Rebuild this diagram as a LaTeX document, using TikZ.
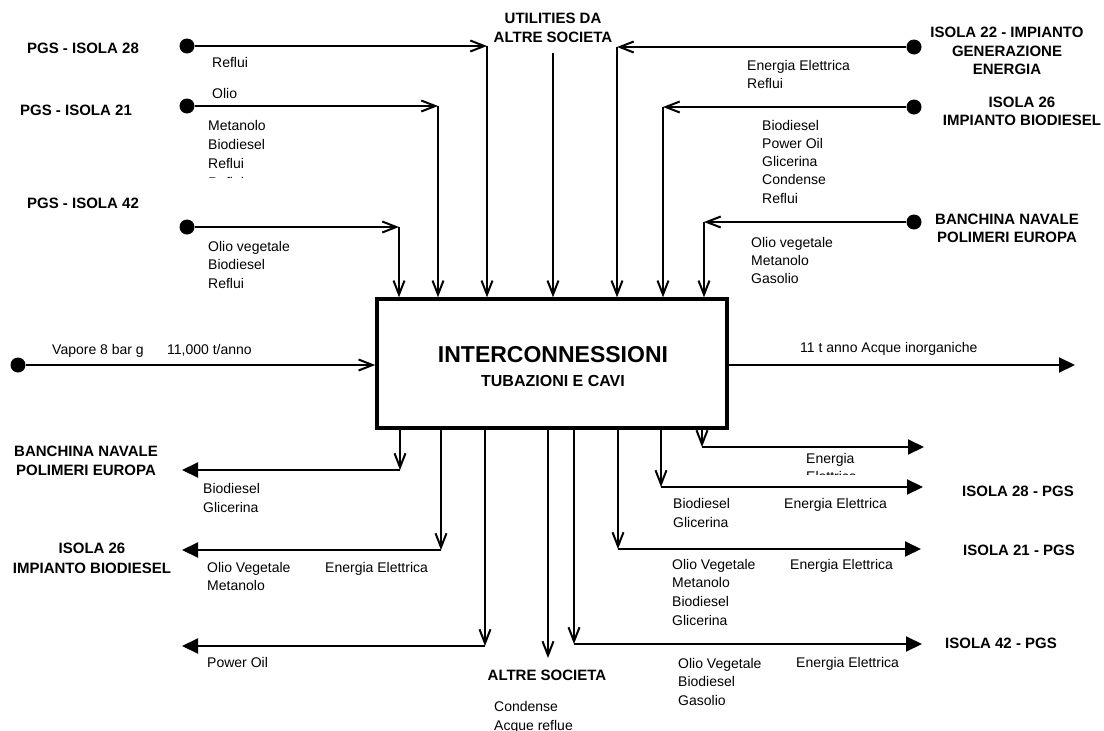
\documentclass[tikz,border=0pt]{standalone}
\usepackage{fontspec}
\setmainfont{Liberation Sans}
\usetikzlibrary{arrows.meta}

% one small label per line, baselines spaced evenly
\newcommand\labelrows[5]{%
  \foreach \t [count=\i] in {#5}
    \node[lbl] (#1-\i) at (#2, {#3+(\i-1)*#4}) {\t};}

\begin{document}
\begin{tikzpicture}[x=1pt,y=-1pt,
  flow/.style={line width=2pt, -{Straight Barb[length=14pt,width=11pt]}},
  outflow/.style={line width=2pt, -{Triangle[length=16pt,width=15pt]}},
  src/.style={circle, fill=black, minimum size=15pt, inner sep=0pt},
  hub/.style={draw, line width=3.4pt, minimum width=350pt, minimum height=129pt, inner sep=0pt},
  lbl/.style={font=\fontsize{14}{18}\selectfont, inner sep=0pt, anchor=base west},
  site/.style={font=\fontsize{15}{19}\selectfont\bfseries, align=center, inner sep=0pt},
]
\useasboundingbox (0,0) rectangle (1104,731);

% central block
\node[hub] (hub) at (552,363.5) {};
\node[font=\fontsize{23}{27}\selectfont\bfseries, inner sep=0pt] (title) at (553,355) {INTERCONNESSIONI};
\node[font=\fontsize{16}{19}\selectfont\bfseries, inner sep=0pt] (subtitle) at (553,381) {TUBAZIONI E CAVI};

% ---------- incoming, top left ----------
\node[site] (pgs28) at (83,48) {PGS - ISOLA 28};
\node[site] (pgs21) at (76,110) {PGS - ISOLA 21};
\node[site] (pgs42) at (83,203) {PGS - ISOLA 42};

\node[src] (d28) at (187,46) {};
\node[src] (d21) at (187,106) {};
\node[src] (d42) at (187,227) {};
\coordinate (c28) at (487,46);
\coordinate (c21) at (438,106);
\coordinate (c42) at (399,227);
\draw[flow] (d28) -- (c28);
\draw[flow] (c28) -- (c28 |- hub.north);
\draw[flow] (d21) -- (c21);
\draw[flow] (c21) -- (c21 |- hub.north);
\draw[flow] (d42) -- (c42);
\draw[flow] (c42) -- (c42 |- hub.north);

\labelrows{l28}{212}{67}{19}{Reflui}
\node[lbl] (l21a) at (212,98) {Olio};
\labelrows{l21}{208}{130}{19}{Metanolo,Biodiesel,Reflui}
\begin{scope}
  \clip (200,150) rectangle (300,177.5);
  \node[lbl] (l21x) at (208,187) {Reflui};
\end{scope}
\labelrows{l42}{208}{251}{18.5}{Olio vegetale,Biodiesel,Reflui}

% ---------- incoming, top centre ----------
\node[site] (util) at (553,28) {UTILITIES DA\\ALTRE SOCIETA};
\coordinate (cu) at (553,53);
\draw[flow] (cu) -- (cu |- hub.north);

% ---------- incoming, top right ----------
\node[site, font=\fontsize{15}{18.5}\selectfont\bfseries] (is22) at (1007,51) {ISOLA 22 - IMPIANTO\\GENERAZIONE\\ENERGIA};
\node[site, font=\fontsize{15}{18}\selectfont\bfseries] (is26a) at (1022,111) {ISOLA 26\\IMPIANTO BIODIESEL};
\node[site, font=\fontsize{15}{17.5}\selectfont\bfseries] (bna) at (1007,228.5) {BANCHINA NAVALE\\POLIMERI EUROPA};

\node[src] (d22) at (914,47) {};
\node[src] (d26) at (914,107) {};
\node[src] (dbn) at (914,222) {};
\coordinate (c22) at (617,47);
\coordinate (c26) at (663,107);
\coordinate (cbn) at (704,222);
\draw[flow] (d22) -- (c22);
\draw[flow] (c22) -- (c22 |- hub.north);
\draw[flow] (d26) -- (c26);
\draw[flow] (c26) -- (c26 |- hub.north);
\draw[flow] (dbn) -- (cbn);
\draw[flow] (cbn) -- (cbn |- hub.north);

\labelrows{l22}{747}{70}{18}{Energia Elettrica,Reflui}
\labelrows{l26}{762}{130}{18.3}{Biodiesel,Power Oil,Glicerina,Condense,Reflui}
\labelrows{lbn}{751}{247}{18}{Olio vegetale,Metanolo,Gasolio}

% ---------- steam in, water out ----------
\node[src] (dv) at (18,365) {};
\draw[flow] (dv) -- (dv -| hub.west);
\node[lbl] (vap) at (52,354) {Vapore 8 bar g};
\node[lbl] (vapq) at (167,354) {11,000 t/anno};

\coordinate (ac) at (1075,365);
\draw[outflow] (ac -| hub.east) -- (ac);
\node[lbl] (acq) at (800,352) {11 t anno Acque inorganiche};

% ---------- outgoing, bottom left ----------
\node[site] (bnb) at (86,461) {BANCHINA NAVALE\\POLIMERI EUROPA};
\node[site, font=\fontsize{15}{20}\selectfont\bfseries] (is26b) at (92,558) {ISOLA 26\\IMPIANTO BIODIESEL};

\coordinate (b1) at (400,470);
\coordinate (e1) at (182,470);
\coordinate (b2) at (441,550);
\coordinate (e2) at (182,550);
\coordinate (b3) at (485,646);
\coordinate (e3) at (182,646);
\draw[flow] (b1 |- hub.south) -- (b1);
\draw[outflow] (b1) -- (e1);
\draw[flow] (b2 |- hub.south) -- (b2);
\draw[outflow] (b2) -- (e2);
\draw[flow] (b3 |- hub.south) -- (b3);
\draw[outflow] (b3) -- (e3);

\labelrows{lb1}{203}{493}{19}{Biodiesel,Glicerina}
\labelrows{lb2}{207}{572}{18}{Olio Vegetale,Metanolo}
\node[lbl] (lb2e) at (325,572) {Energia Elettrica};
\node[lbl] (lb3) at (207,667) {Power Oil};

% ---------- outgoing, bottom centre ----------
\coordinate (b4) at (548,658);
\draw[flow] (b4 |- hub.south) -- (b4);
\node[site] (altre) at (547,675) {ALTRE SOCIETA};
\labelrows{lb4}{494}{711}{19}{Condense,Acque reflue}

% ---------- outgoing, bottom right ----------
\coordinate (b5) at (574,644);
\coordinate (e5) at (922,644);
\coordinate (b6) at (618,549);
\coordinate (e6) at (921,549);
\coordinate (b7) at (661,487);
\coordinate (e7) at (923,487);
\coordinate (b8) at (702,447);
\coordinate (e8) at (924,447);
\draw[flow] (b5 |- hub.south) -- (b5);
\draw[outflow] (b5) -- (e5);
\draw[flow] (b6 |- hub.south) -- (b6);
\draw[outflow] (b6) -- (e6);
\draw[flow] (b7 |- hub.south) -- (b7);
\draw[outflow] (b7) -- (e7);
\draw[flow] (b8 |- hub.south) -- (b8);
\draw[outflow] (b8) -- (e8);

\node[site] (is28) at (1018,491) {ISOLA 28 - PGS};
\node[site] (is21) at (1019,550) {ISOLA 21 - PGS};
\node[site] (is42) at (1001,643) {ISOLA 42 - PGS};

\node[lbl] (lb8) at (806,463) {Energia};
\begin{scope}
  \clip (800,466) rectangle (900,474);
  \node[lbl] (lb8x) at (806,481) {Elettrica};
\end{scope}
\labelrows{lb7}{673}{508}{19}{Biodiesel,Glicerina}
\node[lbl] (lb7e) at (784,508) {Energia Elettrica};
\labelrows{lb6}{672}{569}{18.7}{Olio Vegetale,Metanolo,Biodiesel,Glicerina}
\node[lbl] (lb6e) at (790,569) {Energia Elettrica};
\labelrows{lb5}{678}{668}{18.5}{Olio Vegetale,Biodiesel,Gasolio}
\node[lbl] (lb5e) at (796,667) {Energia Elettrica};

\end{tikzpicture}
\end{document}
